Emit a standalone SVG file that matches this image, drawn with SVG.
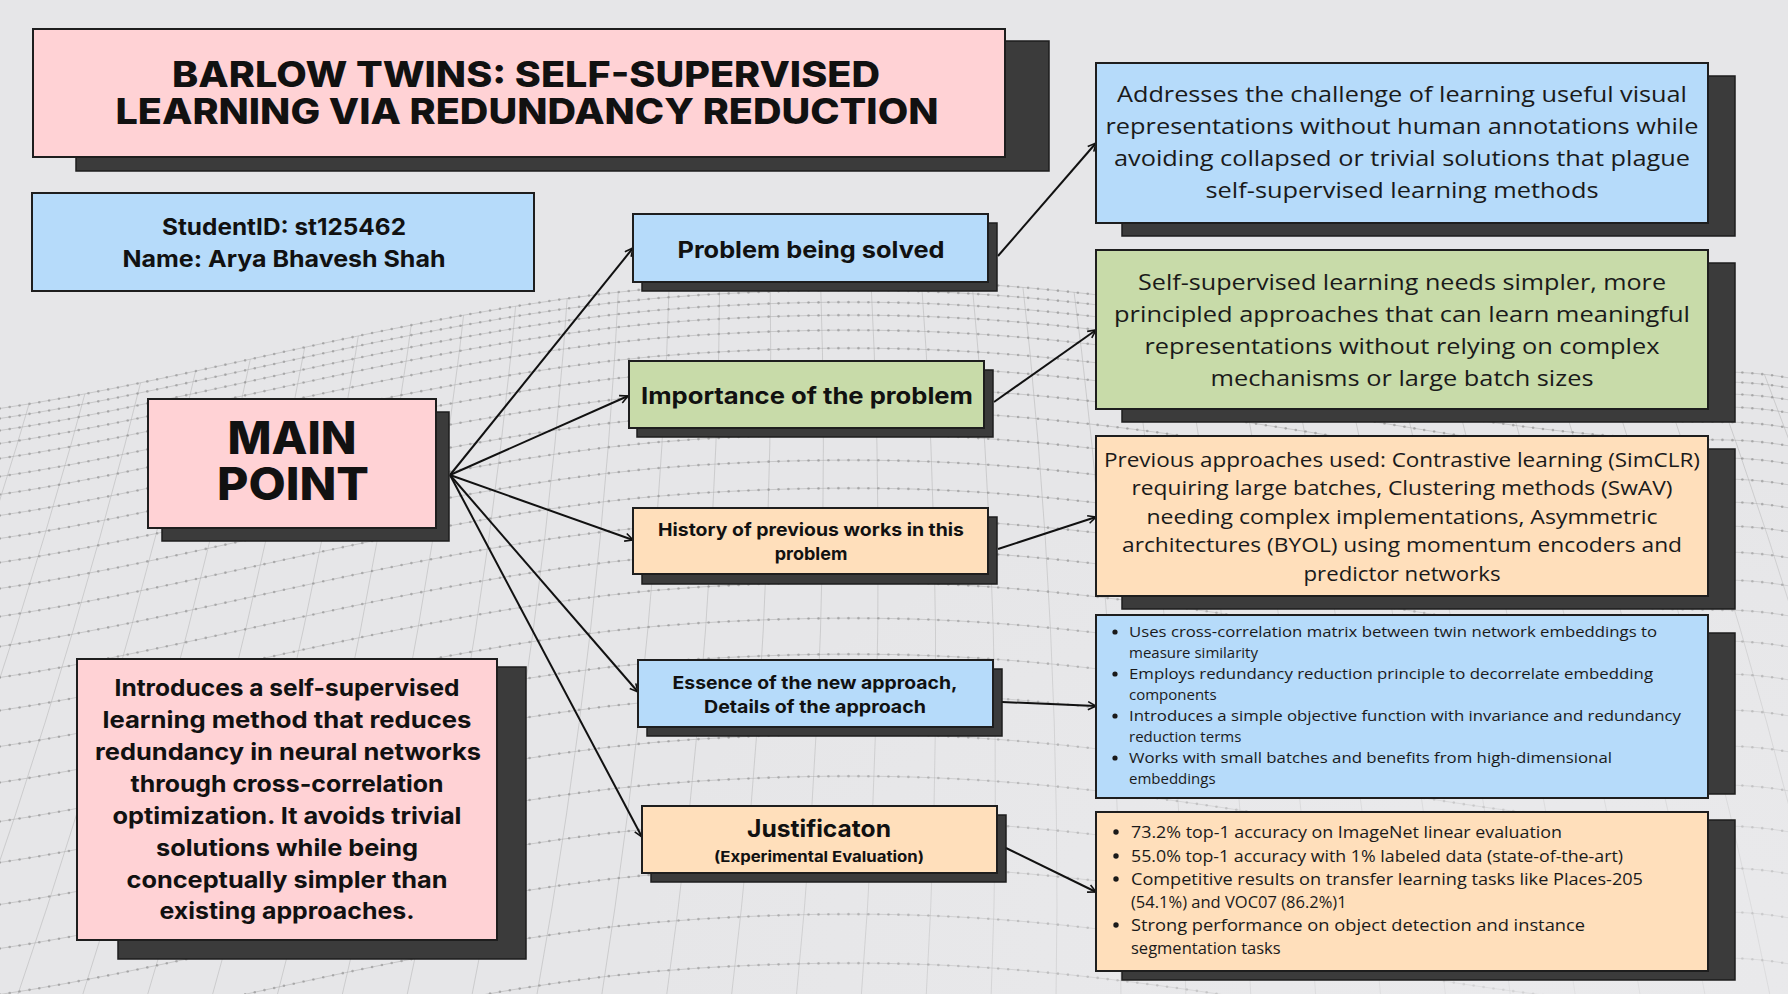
<svg xmlns="http://www.w3.org/2000/svg" width="1788" height="994" viewBox="0 0 1788 994">
<defs>
<style>
.sh{fill:#3b3b3b;stroke:#1e1e1e;stroke-width:1.5}
.bx{stroke:#1e1e1e;stroke-width:2}
.pink{fill:#ffd2d5}.blue{fill:#b6dbfa}.green{fill:#c8dba9}.orange{fill:#ffdfbb}
.hb{font-family:Inter,"Liberation Sans",sans-serif;font-weight:800;fill:#111;text-anchor:middle}
.b7{font-family:Inter,"Liberation Sans",sans-serif;font-weight:700;fill:#111;text-anchor:middle}
.bd{font-family:"Open Sans","Liberation Sans",sans-serif;font-weight:400;fill:#1a1a1a}
.c{text-anchor:middle}
.dot{fill:#1a1a1a}
.conn{stroke:#111;stroke-width:2;fill:none;marker-end:url(#ar)}
.md{fill:none;stroke:#7d7d7d;stroke-width:2.6;stroke-linecap:round;stroke-dasharray:0 10;opacity:.5}
.ml{fill:none;stroke:#9c9c9c;stroke-width:.9;opacity:.45}
.mv{fill:none;stroke:#9a9a9a;stroke-width:1;opacity:.35}
</style>
<marker id="ar" viewBox="0 0 10 10" refX="9" refY="5" markerWidth="10" markerHeight="10" markerUnits="userSpaceOnUse" orient="auto">
<path d="M1,1 L9,5 L1,9" fill="none" stroke="#111" stroke-width="1.6"/>
</marker>
<clipPath id="surf">
<path d="M-10 410 C200 380 450 300 700 285 S1100 290 1400 340 S1700 360 1800 380 L1800 1000 L-10 1000 Z"/>
</clipPath>
<g id="w">
<path class="ml" d="M-10 410 C200 380 450 300 700 285 S1100 290 1400 340 S1700 360 1800 380"/>
<path class="md" d="M-10 410 C200 380 450 300 700 285 S1100 290 1400 340 S1700 360 1800 380"/>
</g>
<radialGradient id="fadeR" cx="0.85" cy="0.95" r="0.5">
<stop offset="0" stop-color="#ececee" stop-opacity=".7"/>
<stop offset="1" stop-color="#ececee" stop-opacity="0"/>
</radialGradient>
</defs>
<rect width="1788" height="994" fill="#e6e6e8"/>
<g id="mesh">
<g clip-path="url(#surf)">
<path class="mv" d="M20 260 Q-87 630 -244 1000"/>
<path class="mv" d="M70 260 Q-30 630 -179 1000"/>
<path class="mv" d="M120 260 Q28 630 -114 1000"/>
<path class="mv" d="M170 260 Q86 630 -49 1000"/>
<path class="mv" d="M220 260 Q143 630 16 1000"/>
<path class="mv" d="M270 260 Q200 630 81 1000"/>
<path class="mv" d="M320 260 Q258 630 146 1000"/>
<path class="mv" d="M370 260 Q316 630 211 1000"/>
<path class="mv" d="M420 260 Q373 630 276 1000"/>
<path class="mv" d="M470 260 Q430 630 341 1000"/>
<path class="mv" d="M520 260 Q488 630 406 1000"/>
<path class="mv" d="M570 260 Q546 630 471 1000"/>
<path class="mv" d="M620 260 Q603 630 536 1000"/>
<path class="mv" d="M670 260 Q660 630 601 1000"/>
<path class="mv" d="M720 260 Q718 630 666 1000"/>
<path class="mv" d="M770 260 Q776 630 731 1000"/>
<path class="mv" d="M820 260 Q833 630 796 1000"/>
<path class="mv" d="M870 260 Q890 630 861 1000"/>
<path class="mv" d="M920 260 Q948 630 926 1000"/>
<path class="mv" d="M970 260 Q1006 630 991 1000"/>
<path class="mv" d="M1020 260 Q1063 630 1056 1000"/>
<path class="mv" d="M1070 260 Q1120 630 1121 1000"/>
<path class="mv" d="M1120 260 Q1178 630 1186 1000"/>
<path class="mv" d="M1170 260 Q1236 630 1251 1000"/>
<path class="mv" d="M1220 260 Q1293 630 1316 1000"/>
<path class="mv" d="M1270 260 Q1350 630 1381 1000"/>
<path class="mv" d="M1320 260 Q1408 630 1446 1000"/>
<path class="mv" d="M1370 260 Q1466 630 1511 1000"/>
<path class="mv" d="M1420 260 Q1523 630 1576 1000"/>
<path class="mv" d="M1470 260 Q1580 630 1641 1000"/>
<path class="mv" d="M1520 260 Q1638 630 1706 1000"/>
<path class="mv" d="M1570 260 Q1696 630 1771 1000"/>
<path class="mv" d="M1620 260 Q1753 630 1836 1000"/>
<path class="mv" d="M1670 260 Q1810 630 1901 1000"/>
<path class="mv" d="M1720 260 Q1868 630 1966 1000"/>
<path class="mv" d="M1770 260 Q1926 630 2031 1000"/>
</g>
<use href="#w" y="0"/>
<use href="#w" y="10"/>
<use href="#w" y="22"/>
<use href="#w" y="35"/>
<use href="#w" y="50"/>
<use href="#w" y="68"/>
<use href="#w" y="86"/>
<use href="#w" y="107"/>
<use href="#w" y="130"/>
<use href="#w" y="154"/>
<use href="#w" y="180"/>
<use href="#w" y="208"/>
<use href="#w" y="238"/>
<use href="#w" y="269"/>
<use href="#w" y="302"/>
<use href="#w" y="338"/>
<use href="#w" y="374"/>
<use href="#w" y="413"/>
<use href="#w" y="454"/>
<use href="#w" y="496"/>
<use href="#w" y="540"/>
<use href="#w" y="586"/>
<use href="#w" y="634"/>
<use href="#w" y="683"/>
<rect width="1788" height="994" fill="url(#fadeR)"/>
</g>
<g id="connectors">
<line class="conn" x1="450" y1="475" x2="633" y2="248"/>
<line class="conn" x1="450" y1="475" x2="628" y2="396"/>
<line class="conn" x1="450" y1="475" x2="633" y2="540"/>
<line class="conn" x1="450" y1="475" x2="638" y2="692"/>
<line class="conn" x1="450" y1="475" x2="642" y2="837"/>
<line class="conn" x1="998" y1="256" x2="1096" y2="143"/>
<line class="conn" x1="994" y1="402" x2="1096" y2="330"/>
<line class="conn" x1="998" y1="549" x2="1096" y2="517"/>
<line class="conn" x1="1002" y1="702" x2="1096" y2="706"/>
<line class="conn" x1="1006" y1="848" x2="1096" y2="892"/>
</g>
<g id="title">
<rect class="sh" x="76" y="41" width="973" height="130"/>
<rect class="bx pink" x="33" y="29" width="972" height="128"/>
<text class="hb" font-size="35" x="526" y="87" textLength="708" lengthAdjust="spacingAndGlyphs">BARLOW TWINS: SELF-SUPERVISED</text>
<text class="hb" font-size="35" x="527" y="124" textLength="823" lengthAdjust="spacingAndGlyphs">LEARNING VIA REDUNDANCY REDUCTION</text>
</g>
<g id="student">
<rect class="bx blue" x="32" y="193" width="502" height="98"/>
<text class="b7" font-size="23" x="284" y="235" textLength="244" lengthAdjust="spacingAndGlyphs">StudentID: st125462</text>
<text class="b7" font-size="23" x="284" y="267" textLength="323" lengthAdjust="spacingAndGlyphs">Name: Arya Bhavesh Shah</text>
</g>
<g id="main-point">
<rect class="sh" x="162" y="412" width="287" height="129"/>
<rect class="bx pink" x="148" y="399" width="288" height="129"/>
<text class="hb" font-size="45" x="292" y="454" textLength="129" lengthAdjust="spacingAndGlyphs">MAIN</text>
<text class="hb" font-size="45" x="293" y="500" textLength="152" lengthAdjust="spacingAndGlyphs">POINT</text>
</g>
<g id="summary">
<rect class="sh" x="118" y="667" width="408" height="292"/>
<rect class="bx pink" x="77" y="659" width="420" height="281"/>
<g class="b7" font-size="23">
<text x="287" y="696" textLength="345" lengthAdjust="spacingAndGlyphs">Introduces a self-supervised</text>
<text x="287" y="728" textLength="369" lengthAdjust="spacingAndGlyphs">learning method that reduces</text>
<text x="288" y="760" textLength="386" lengthAdjust="spacingAndGlyphs">redundancy in neural networks</text>
<text x="287" y="792" textLength="313" lengthAdjust="spacingAndGlyphs">through cross-correlation</text>
<text x="287" y="824" textLength="349" lengthAdjust="spacingAndGlyphs">optimization. It avoids trivial</text>
<text x="287" y="856" textLength="262" lengthAdjust="spacingAndGlyphs">solutions while being</text>
<text x="287" y="888" textLength="321" lengthAdjust="spacingAndGlyphs">conceptually simpler than</text>
<text x="287" y="919" textLength="255" lengthAdjust="spacingAndGlyphs">existing approaches.</text>
</g>
</g>
<g id="problem">
<rect class="sh" x="642" y="223" width="355" height="68"/>
<rect class="bx blue" x="633" y="214" width="355" height="68"/>
<text class="b7" font-size="23" x="811" y="258" textLength="267" lengthAdjust="spacingAndGlyphs">Problem being solved</text>
</g>
<g id="importance">
<rect class="sh" x="637" y="370" width="356" height="67"/>
<rect class="bx green" x="629" y="361" width="355" height="67"/>
<text class="b7" font-size="23" x="807" y="404" textLength="332" lengthAdjust="spacingAndGlyphs">Importance of the problem</text>
</g>
<g id="history">
<rect class="sh" x="642" y="517" width="355" height="67"/>
<rect class="bx orange" x="633" y="508" width="355" height="66"/>
<text class="b7" font-size="18" x="811" y="536" textLength="306" lengthAdjust="spacingAndGlyphs">History of previous works in this</text>
<text class="b7" font-size="18" x="811" y="560">problem</text>
</g>
<g id="essence">
<rect class="sh" x="647" y="669" width="355" height="67"/>
<rect class="bx blue" x="638" y="660" width="355" height="67"/>
<text class="b7" font-size="18" x="815" y="689" textLength="285" lengthAdjust="spacingAndGlyphs">Essence of the new approach,</text>
<text class="b7" font-size="18" x="815" y="713" textLength="222" lengthAdjust="spacingAndGlyphs">Details of the approach</text>
</g>
<g id="justification">
<rect class="sh" x="651" y="815" width="355" height="67"/>
<rect class="bx orange" x="642" y="806" width="355" height="67"/>
<text class="b7" font-size="24" x="819" y="837" textLength="144" lengthAdjust="spacingAndGlyphs">Justificaton</text>
<text class="b7" font-size="15" x="819" y="862" textLength="210" lengthAdjust="spacingAndGlyphs">(Experimental Evaluation)</text>
</g>
<g id="problem-detail">
<rect class="sh" x="1122" y="76" width="613" height="160"/>
<rect class="bx blue" x="1096" y="63" width="612" height="160"/>
<g class="bd c" font-size="22">
<text x="1402" y="102" textLength="570" lengthAdjust="spacingAndGlyphs">Addresses the challenge of learning useful visual</text>
<text x="1402" y="134" textLength="593" lengthAdjust="spacingAndGlyphs">representations without human annotations while</text>
<text x="1402" y="166" textLength="576" lengthAdjust="spacingAndGlyphs">avoiding collapsed or trivial solutions that plague</text>
<text x="1402" y="198" textLength="393" lengthAdjust="spacingAndGlyphs">self-supervised learning methods</text>
</g>
</g>
<g id="importance-detail">
<rect class="sh" x="1122" y="263" width="613" height="159"/>
<rect class="bx green" x="1096" y="250" width="612" height="159"/>
<g class="bd c" font-size="22">
<text x="1402" y="290" textLength="528" lengthAdjust="spacingAndGlyphs">Self-supervised learning needs simpler, more</text>
<text x="1402" y="322" textLength="576" lengthAdjust="spacingAndGlyphs">principled approaches that can learn meaningful</text>
<text x="1402" y="354" textLength="515" lengthAdjust="spacingAndGlyphs">representations without relying on complex</text>
<text x="1402" y="386" textLength="383" lengthAdjust="spacingAndGlyphs">mechanisms or large batch sizes</text>
</g>
</g>
<g id="history-detail">
<rect class="sh" x="1122" y="449" width="613" height="160"/>
<rect class="bx orange" x="1096" y="436" width="612" height="160"/>
<g class="bd c" font-size="20">
<text x="1402" y="467" textLength="596" lengthAdjust="spacingAndGlyphs">Previous approaches used: Contrastive learning (SimCLR)</text>
<text x="1402" y="495" textLength="541" lengthAdjust="spacingAndGlyphs">requiring large batches, Clustering methods (SwAV)</text>
<text x="1402" y="524" textLength="511" lengthAdjust="spacingAndGlyphs">needing complex implementations,  Asymmetric</text>
<text x="1402" y="552" textLength="560" lengthAdjust="spacingAndGlyphs">architectures (BYOL) using momentum encoders and</text>
<text x="1402" y="581" textLength="197" lengthAdjust="spacingAndGlyphs">predictor networks</text>
</g>
</g>
<g id="essence-detail">
<rect class="sh" x="1122" y="633" width="613" height="161"/>
<rect class="bx blue" x="1096" y="615" width="612" height="183"/>
<circle class="dot" cx="1115" cy="632" r="2.6"/>
<circle class="dot" cx="1115" cy="674" r="2.6"/>
<circle class="dot" cx="1115" cy="716" r="2.6"/>
<circle class="dot" cx="1115" cy="758" r="2.6"/>
<g class="bd" font-size="15">
<text x="1129" y="637" textLength="528" lengthAdjust="spacingAndGlyphs">Uses cross-correlation matrix between twin network embeddings to</text>
<text x="1129" y="658">measure similarity</text>
<text x="1129" y="679" textLength="524" lengthAdjust="spacingAndGlyphs">Employs redundancy reduction principle to decorrelate embedding</text>
<text x="1129" y="700">components</text>
<text x="1129" y="721" textLength="552" lengthAdjust="spacingAndGlyphs">Introduces a simple objective function with invariance and redundancy</text>
<text x="1129" y="742">reduction terms</text>
<text x="1129" y="763" textLength="483" lengthAdjust="spacingAndGlyphs">Works with small batches and benefits from high-dimensional</text>
<text x="1129" y="784">embeddings</text>
</g>
</g>
<g id="justification-detail">
<rect class="sh" x="1122" y="820" width="613" height="160"/>
<rect class="bx orange" x="1096" y="812" width="612" height="159"/>
<circle class="dot" cx="1116" cy="832" r="2.7"/>
<circle class="dot" cx="1116" cy="856" r="2.7"/>
<circle class="dot" cx="1116" cy="879" r="2.7"/>
<circle class="dot" cx="1116" cy="925" r="2.7"/>
<g class="bd" font-size="16.5">
<text x="1131" y="838" textLength="431" lengthAdjust="spacingAndGlyphs">73.2% top-1 accuracy on ImageNet linear evaluation</text>
<text x="1131" y="862" textLength="492" lengthAdjust="spacingAndGlyphs">55.0% top-1 accuracy with 1% labeled data (state-of-the-art)</text>
<text x="1131" y="885" textLength="512" lengthAdjust="spacingAndGlyphs">Competitive results on transfer learning tasks like Places-205</text>
<text x="1131" y="908">(54.1%) and VOC07 (86.2%)1</text>
<text x="1131" y="931" textLength="454" lengthAdjust="spacingAndGlyphs">Strong performance on object detection and instance</text>
<text x="1131" y="954">segmentation tasks</text>
</g>
</g>
</svg>
